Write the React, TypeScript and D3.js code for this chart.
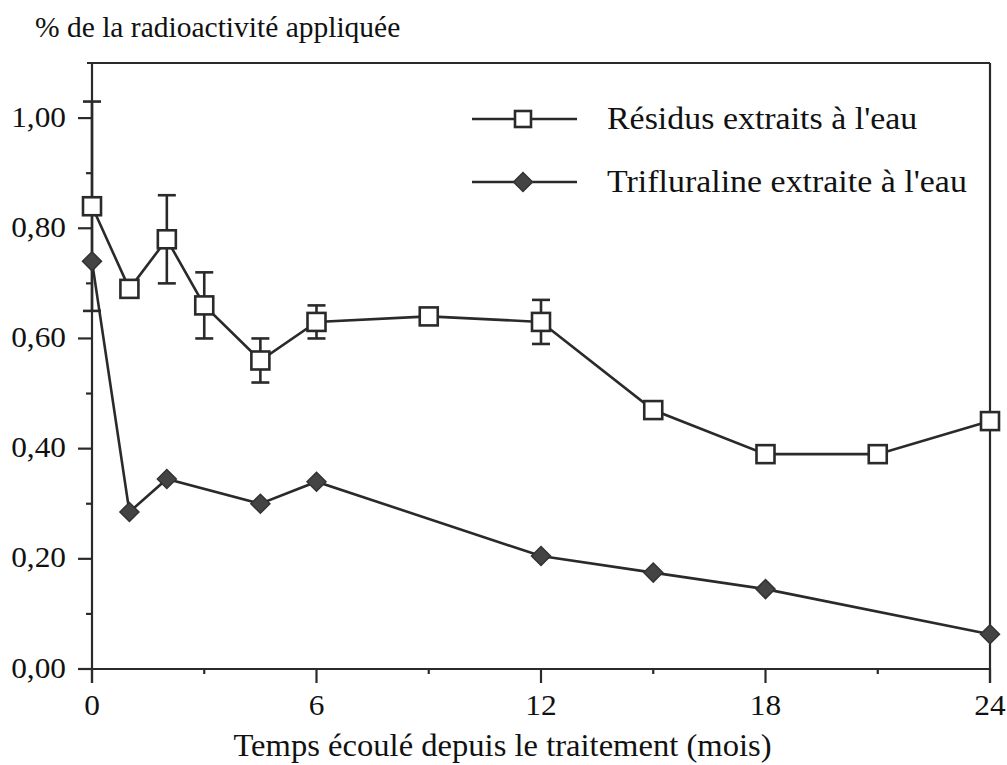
import React from "react";
import * as d3 from "d3";

const months = [0, 1, 2, 3, 4.5, 6, 9, 12, 15, 18, 21, 24];
const residus = [0.84, 0.69, 0.78, 0.66, 0.56, 0.63, 0.64, 0.63, 0.47, 0.39, 0.39, 0.45];
const residusErr = [0.19, 0, 0.08, 0.06, 0.04, 0.03, 0.01, 0.04, 0, 0, 0, 0];
const trifMonths = [0, 1, 2, 4.5, 6, 12, 15, 18, 24];
const trifluraline = [0.74, 0.285, 0.345, 0.3, 0.34, 0.205, 0.175, 0.145, 0.063];
const xTicks = [0, 6, 12, 18, 24];
const xMinor = [3, 9, 15, 21];
const yTicks = [0, 0.2, 0.4, 0.6, 0.8, 1.0];
const yMinor = [0.1, 0.3, 0.5, 0.7, 0.9];
const legendLabels = ["Résidus extraits à l'eau", "Trifluraline extraite à l'eau"];

const W = 1007, H = 765;
const left = 92, right = 990, top = 63, bottom = 669;
const font = '"Liberation Serif", "Times New Roman", Times, "DejaVu Serif", serif';
const ink = "#2a2a2a";

function T(props: { x: number; y: number; size: number; sx?: number; anchor?: string; children: React.ReactNode }) {
  const sx = props.sx ?? 1;
  return (
    <text
      transform={`translate(${props.x},${props.y}) scale(${sx},1)`}
      textAnchor={props.anchor ?? "start"}
      style={{ fontFamily: font, fontSize: props.size + "px" }}
      fill="#111"
    >
      {props.children}
    </text>
  );
}

export default function App() {
  const x = d3.scaleLinear().domain([0, 24]).range([left, right]);
  const y = d3.scaleLinear().domain([0, 1.1]).range([bottom, top]);
  const line = d3.line<[number, number]>().x(d => x(d[0])).y(d => y(d[1]));
  const resPts: [number, number][] = months.map((m, i) => [m, residus[i]]);
  const trifPts: [number, number][] = trifMonths.map((m, i) => [m, trifluraline[i]]);
  const fmt = (v: number) => v.toFixed(2).replace(".", ",");
  const sq = 18, dm = 9.5;
  const diamond = (cx: number, cy: number) => `M${cx},${cy - dm}L${cx + dm},${cy}L${cx},${cy + dm}L${cx - dm},${cy}Z`;

  return (
    <svg width={W} height={H} style={{ position: "absolute", left: 0, top: 0, background: "#fff" }}>
      <rect width={W} height={H} fill="#fff" />
      {/* frame */}
      <line x1={left - 5} x2={right} y1={top} y2={top} stroke={ink} strokeWidth={2.2} />
      <line x1={right} x2={right} y1={top} y2={bottom + 14} stroke={ink} strokeWidth={2.2} />
      <line x1={left} x2={left} y1={top} y2={bottom + 14} stroke={ink} strokeWidth={2.2} />
      <line x1={left - 14} x2={right} y1={bottom} y2={bottom} stroke={ink} strokeWidth={2.2} />
      {/* y ticks */}
      {yTicks.map(t => (
        <g key={"y" + t}>
          <line x1={left - 14} x2={left} y1={y(t)} y2={y(t)} stroke={ink} strokeWidth={2.2} />
          <T x={66} y={y(t) + 8.5} size={29} sx={1.08} anchor="end">{fmt(t)}</T>
        </g>
      ))}
      {yMinor.map(t => (
        <line key={"ym" + t} x1={left - 6} x2={left} y1={y(t)} y2={y(t)} stroke={ink} strokeWidth={2.2} />
      ))}
      {/* x ticks */}
      {xTicks.map(t => (
        <g key={"x" + t}>
          <line x1={x(t)} x2={x(t)} y1={bottom} y2={bottom + 14} stroke={ink} strokeWidth={2.2} />
          <T x={x(t)} y={715} size={29} sx={1.08} anchor="middle">{t}</T>
        </g>
      ))}
      {xMinor.map(t => (
        <line key={"xm" + t} x1={x(t)} x2={x(t)} y1={bottom} y2={bottom + 5} stroke={ink} strokeWidth={2.2} />
      ))}
      {/* titles */}
      <T x={35} y={37} size={29.5}>% de la radioactivité appliquée</T>
      <T x={(232 + 773) / 2} y={756} size={31.5} sx={1.035} anchor="middle">Temps écoulé depuis le traitement (mois)</T>
      {/* lines */}
      <path d={line(trifPts) || ""} fill="none" stroke={ink} strokeWidth={2.6} />
      <path d={line(resPts) || ""} fill="none" stroke={ink} strokeWidth={2.6} />
      {/* error bars */}
      {months.map((m, i) => residusErr[i] > 0 ? (
        <g key={"e" + i} stroke={ink} strokeWidth={2.6}>
          <line x1={x(m)} x2={x(m)} y1={y(residus[i] + residusErr[i])} y2={y(residus[i] - residusErr[i])} />
          <line x1={x(m) - 9} x2={x(m) + 9} y1={y(residus[i] + residusErr[i])} y2={y(residus[i] + residusErr[i])} />
          <line x1={x(m) - 9} x2={x(m) + 9} y1={y(residus[i] - residusErr[i])} y2={y(residus[i] - residusErr[i])} />
        </g>
      ) : null)}
      {/* markers */}
      {trifPts.map((p, i) => (
        <path key={"d" + i} d={diamond(x(p[0]), y(p[1]))} fill="#444" stroke="#333" strokeWidth={1.5} />
      ))}
      {resPts.map((p, i) => (
        <rect key={"s" + i} x={x(p[0]) - sq / 2} y={y(p[1]) - sq / 2} width={sq} height={sq} fill="#fff" stroke={ink} strokeWidth={2.6} />
      ))}
      {/* legend */}
      <line x1={472} x2={577} y1={119} y2={119} stroke={ink} strokeWidth={2.6} />
      <rect x={523 - 8} y={119 - 8} width={16} height={16} fill="#fff" stroke={ink} strokeWidth={2.6} />
      <T x={607} y={129} size={32} sx={1.06}>{legendLabels[0]}</T>
      <line x1={472} x2={577} y1={182} y2={182} stroke={ink} strokeWidth={2.6} />
      <path d={diamond(523, 182)} fill="#444" stroke="#333" strokeWidth={1.5} />
      <T x={607} y={192} size={32} sx={1.06}>{legendLabels[1]}</T>
    </svg>
  );
}
